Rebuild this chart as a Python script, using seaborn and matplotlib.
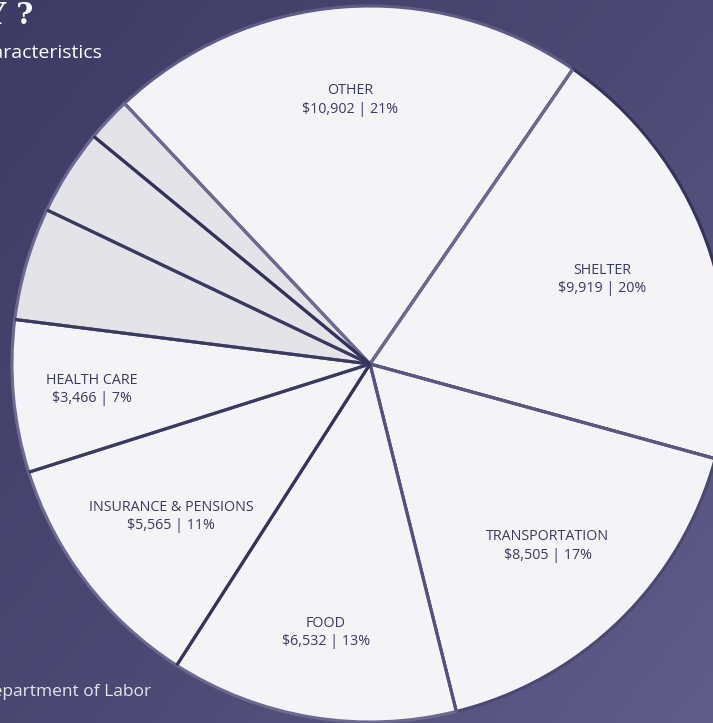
import numpy as np
import matplotlib.pyplot as plt
import seaborn as sns
from matplotlib.colors import LinearSegmentedColormap

sns.set_theme(style="white")
plt.rcParams["font.family"] = ["Open Sans", "DejaVu Sans"]

# ── data ──
categories = ["OTHER", "SHELTER", "TRANSPORTATION", "FOOD",
              "INSURANCE & PENSIONS", "HEALTH CARE", "", "", ""]
spending = [10902, 9919, 8505, 6532, 5565, 3466, 2570, 1960, 1010]
shares = ["21%", "20%", "17%", "13%", "11%", "7%", "", "", ""]

# ── style ──
light = "#f4f4f6"
grey = "#e3e3e8"
fills = [light] * 6 + [grey] * 3
arc_cols = ["#5f5c88", "#34335c", "#4a4775", "#6c6992",
            "#6c6992", "#6c6992", "#6a6791", "#6a6791", "#6a6791"]
spoke_cols = ["#6c6992", "#6c6992", "#5a5783", "#545180",
              "#34335a", "#3a3961", "#3a3961", "#3a3961", "#33325a"]
label_r = [0.74, 0.69, 0.71, 0.76, 0.70, 0.78, 0, 0, 0]
text_col = "#3a3960"

W, H = 713, 723
cx, cy, R = 370, 364, 358

fig = plt.figure(figsize=(W / 100, H / 100), dpi=100)

# background gradient
bg = fig.add_axes([0, 0, 1, 1])
bg.axis("off")
cmap = LinearSegmentedColormap.from_list("bg", ["#3e3c65", "#4b4873", "#615d89"])
yy, xx = np.mgrid[0:1:200j, 0:1:200j]
bg.imshow(0.55 * xx + 0.45 * yy, cmap=cmap, aspect="auto",
          extent=[0, 1, 0, 1], origin="upper")
bg.set_xlim(0, 1)
bg.set_ylim(0, 1)

ax = fig.add_axes([0, 0, 1, 1])
ax.axis("off")
start = 133.3
wedges, _ = ax.pie(spending, colors=fills, startangle=start, counterclock=False,
                   radius=1, wedgeprops=dict(linewidth=2.2))
for w, c in zip(wedges, arc_cols):
    w.set_edgecolor(c)

# spokes + labels
total = sum(spending)
ang = start
for val, cat, sh, sc, lr in zip(spending, categories, shares, spoke_cols, label_r):
    t = np.deg2rad(ang)
    ax.plot([0, np.cos(t)], [0, np.sin(t)], color=sc, lw=2.2,
            solid_capstyle="butt", zorder=5)
    span = val / total * 360
    if cat:
        mid = np.deg2rad(ang - span / 2)
        x, y = lr * np.cos(mid), lr * np.sin(mid)
        ax.text(x, y, f"{cat}\n${val:,} | {sh}", ha="center", va="center",
                fontsize=10.3, color=text_col, linespacing=1.3, zorder=6)
    ang -= span

ax.set_aspect("auto")
ax.set_xlim(-cx / R, (W - cx) / R)
ax.set_ylim(-(H - cy) / R, cy / R)

# header / footer (cropped at the left edge, as in the source)
fig.text(33 / W, 1 - 15 / H, "HOW DO AMERICANS SPEND THEIR MONEY ?",
         ha="right", va="center", fontsize=21, fontweight="bold",
         family="DejaVu Serif", color="white")
fig.text(102 / W, 1 - 53 / H, "Average Annual Expenditures and Characteristics",
         ha="right", va="center", fontsize=14, color="white")
fig.text(151 / W, 1 - 692 / H, "Source: U.S. Bureau of Labor Statistics, U.S. Department of Labor",
         ha="right", va="center", fontsize=12.5, color="#e6e5ee")

fig.savefig("out.png", dpi=100)
